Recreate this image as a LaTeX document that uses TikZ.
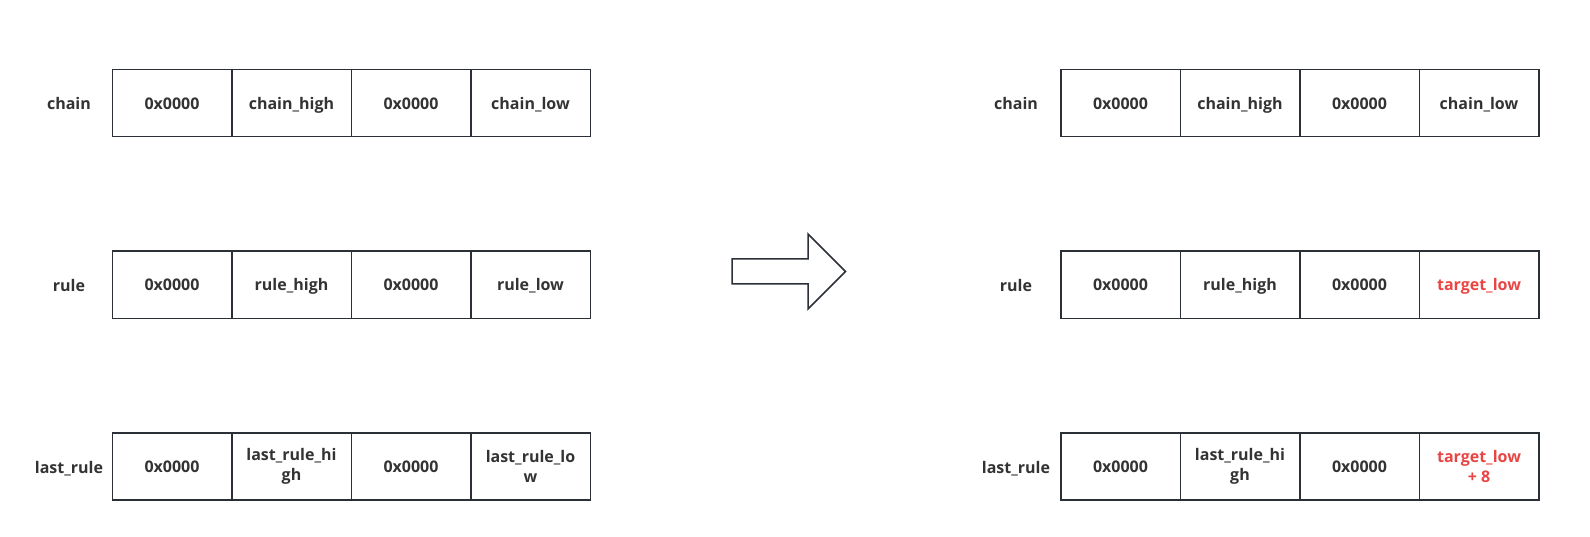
\documentclass[tikz,border=0pt]{standalone}
\usepackage{fontspec}
\setmainfont{Open Sans}
\definecolor{ln}{HTML}{2B2F36}
\definecolor{tx}{HTML}{333333}
\definecolor{rd}{HTML}{E94545}
\begin{document}
\begin{tikzpicture}[x=1pt,y=-1pt,
  cellb/.style={draw=ln,line width=1.5pt,minimum width=119.5pt,minimum height=67pt,inner sep=0pt,font=\bfseries\fontsize{16}{20.3}\selectfont,text=tx,align=center,anchor=north west},
  cell/.style={cellb,text height=12pt,text depth=0pt},
  lbl/.style={font=\bfseries\fontsize{16}{20.3}\selectfont,text=tx,anchor=center,text height=12pt,text depth=0pt,inner sep=0pt},
  red/.style={text=rd}]
\useasboundingbox (0,0) rectangle (1590,537);
% left
\node[lbl] (la) at (69,104) {chain};
\node[lbl] (lb) at (69,285.5) {rule};
\node[lbl] (lc) at (69,467) {last\_rule};
\node[cell] (a1) at (111.5,69) {0x0000};
\node[cell] (a2) at (231,69) {chain\_high};
\node[cell] (a3) at (350.5,69) {0x0000};
\node[cell] (a4) at (470,69) {chain\_low};
\node[cell] (b1) at (111.5,250.5) {0x0000};
\node[cell] (b2) at (231,250.5) {rule\_high};
\node[cell] (b3) at (350.5,250.5) {0x0000};
\node[cell] (b4) at (470,250.5) {rule\_low};
\node[cell] (c1) at (111.5,432) {0x0000};
\node[cellb] (c2) at (231,432) {last\_rule\_hi\\gh};
\node[cell] (c3) at (350.5,432) {0x0000};
\node[cellb] (c4) at (470,432) {last\_rule\_lo\\w};
% right
\node[lbl] (ra) at (1016,104) {chain};
\node[lbl] (rb) at (1016,285.5) {rule};
\node[lbl] (rc) at (1016,467) {last\_rule};
\node[cell] (d1) at (1060,69) {0x0000};
\node[cell] (d2) at (1179.5,69) {chain\_high};
\node[cell] (d3) at (1299,69) {0x0000};
\node[cell] (d4) at (1418.5,69) {chain\_low};
\node[cell] (e1) at (1060,250.5) {0x0000};
\node[cell] (e2) at (1179.5,250.5) {rule\_high};
\node[cell] (e3) at (1299,250.5) {0x0000};
\node[cell,red] (e4) at (1418.5,250.5) {target\_low};
\node[cell] (f1) at (1060,432) {0x0000};
\node[cellb] (f2) at (1179.5,432) {last\_rule\_hi\\gh};
\node[cell] (f3) at (1299,432) {0x0000};
\node[cellb,red] (f4) at (1418.5,432) {target\_low\\+ 8};
% arrow
\draw[ln,line width=1.5pt,line join=miter,fill=white]
  (732,259) -- (808,259) -- (808,234) -- (845.5,271.5) -- (808,309) -- (808,284) -- (732,284) -- cycle;
\end{tikzpicture}
\end{document}
